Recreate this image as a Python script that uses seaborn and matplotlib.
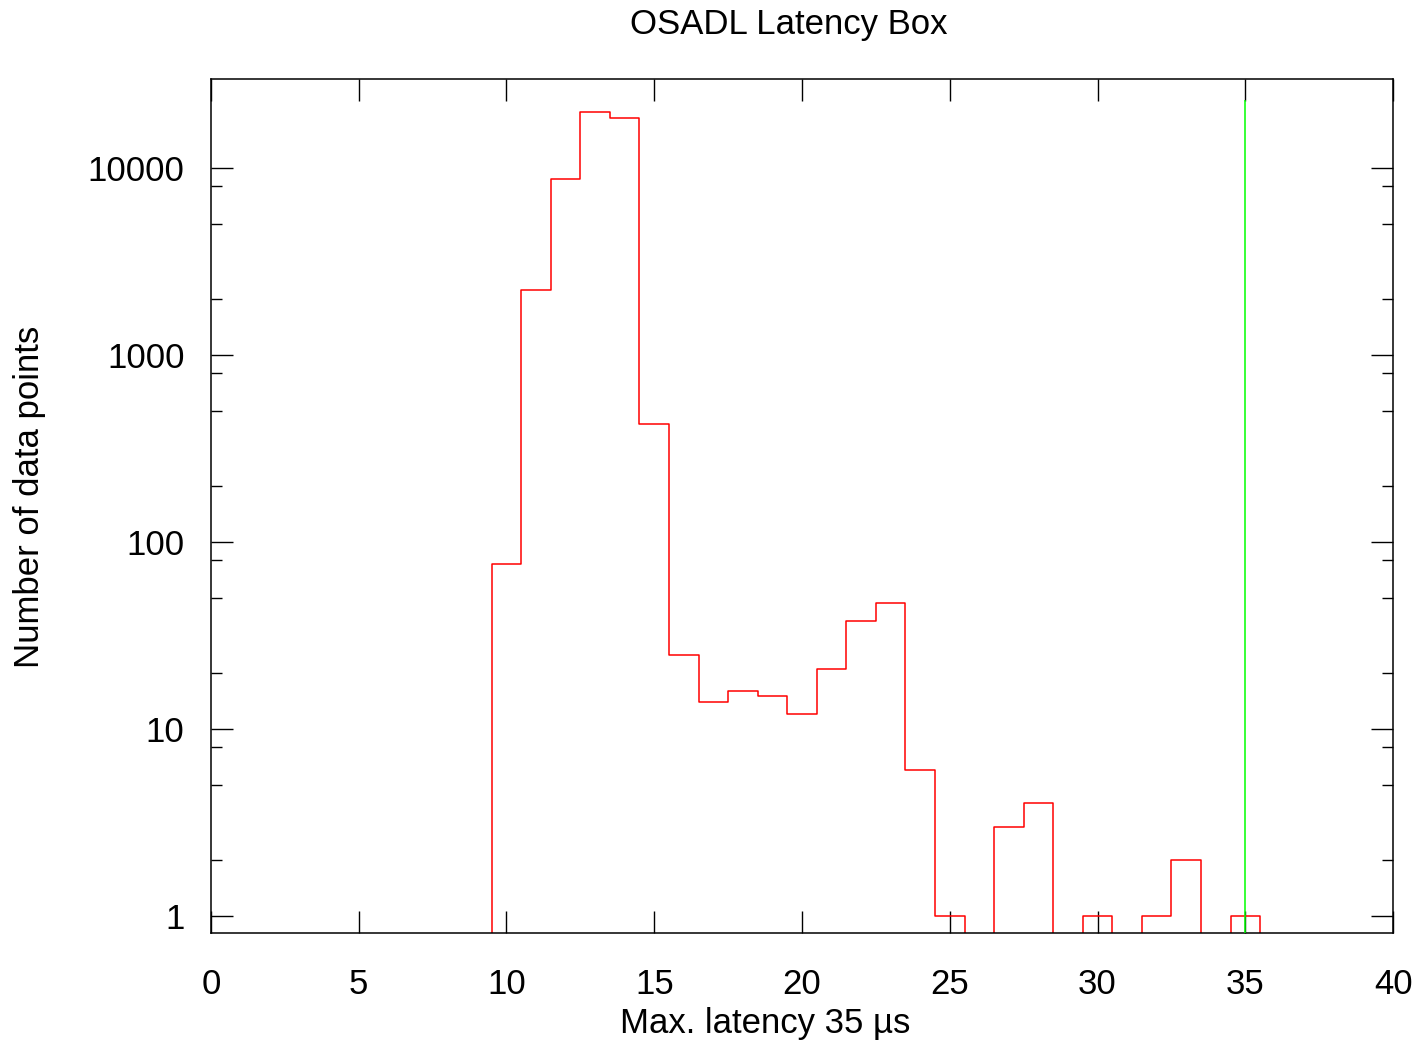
import numpy as np
import pandas as pd
import matplotlib
matplotlib.use("Agg")
import matplotlib.pyplot as plt
import seaborn as sns

# Latency histogram values (microseconds -> number of samples)
latency_us = [9, 10, 11, 12, 13, 14, 15, 16, 17, 18, 19, 20, 21, 22, 23, 24,
              25, 26, 27, 28, 29, 30, 31, 32, 33, 34, 35, 36]
counts = [0, 76, 2230, 8730, 19900, 18500, 428, 25, 14, 16, 15, 12, 21, 38, 47, 6,
          1, 0, 3, 4, 0, 1, 0, 1, 2, 0, 1, 0]
max_latency = 35
x_ticks = [0, 5, 10, 15, 20, 25, 30, 35, 40]
y_major = [1, 10, 100, 1000, 10000]
y_minor = [2, 5, 8, 20, 50, 80, 200, 500, 800, 2000, 5000, 8000]

sns.set_style("white")
plt.rcParams['font.family'] = ['Liberation Sans', 'DejaVu Sans']
plt.rcParams['text.color'] = 'black'

df = pd.DataFrame({'latency': latency_us, 'count': counts})
# zero bins would vanish on a log axis, push them below the visible range
df['plot_count'] = np.where(df['count'] > 0, df['count'], 0.05)

fig = plt.figure(figsize=(14.14, 10.44), dpi=100)
ax = fig.add_axes([0.1492, 0.1063, 0.8360, 0.8180])

sns.lineplot(data=df, x='latency', y='plot_count', ax=ax, color='#ff0000',
             linewidth=1.1, drawstyle='steps-mid', estimator=None)
ax.vlines(max_latency, 0.5, 23000, color='#00ff00', linewidth=1.1, zorder=3)

ax.set_yscale('log')
ax.set_xlim(0, 40)
ax.set_ylim(0.81, 29900)

ax.set_xticks(x_ticks)
ax.set_xticklabels([str(t) for t in x_ticks])
ax.set_yticks(y_major)
ax.set_yticklabels([str(t) for t in y_major])
ax.set_yticks(y_minor, minor=True)
ax.set_yticklabels([], minor=True)
ax.set_xticks([], minor=True)

ax.tick_params(axis='both', which='major', direction='in', length=15.8, width=1.0,
               top=True, right=True, bottom=True, left=True, labelsize=25,
               color='black', labelcolor='black')
ax.tick_params(axis='y', which='minor', direction='in', length=7.9, width=1.0,
               left=True, right=True, color='black')
ax.tick_params(axis='x', which='major', pad=25.5)
ax.tick_params(axis='y', which='major', pad=19)

for sp in ax.spines.values():
    sp.set_color('black')
    sp.set_linewidth(1.1)

ax.set_xlabel('')
ax.set_ylabel('')
fig.text(0.541, 0.020, 'Max. latency 35 \u00b5s', ha='center', va='center', fontsize=25)
fig.text(0.021, 0.524, 'Number of data points', ha='center', va='center',
         rotation=90, fontsize=25)
fig.text(0.558, 0.977, 'OSADL Latency Box', ha='center', va='center', fontsize=25)

fig.savefig('out.png', dpi=100, facecolor='white')
